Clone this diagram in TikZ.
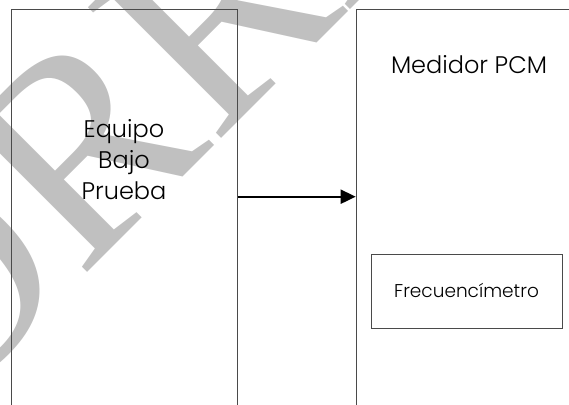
\documentclass[tikz,border=0pt]{standalone}
\usepackage{fontspec}
\setmainfont{Poppins Light}
\newfontfamily\marcafont{Liberation Serif}
\usetikzlibrary{positioning, arrows.meta}
\definecolor{marca}{HTML}{C0C0C0}
\definecolor{borde}{HTML}{4A4A4A}

\begin{document}
\begin{tikzpicture}[x=1pt, y=-1pt, inner sep=0pt,
      caja/.style={draw=borde, line width=0.9pt},
      etiqueta/.style={font=\fontsize{24}{31}\selectfont, align=center},
      flecha/.style={-{Triangle[length=15pt,width=14pt]}, line width=2pt}]
  \useasboundingbox (0,0) rectangle (569,404);
  \clip (0,0) rectangle (569,404);
  % marca de agua
  \node[anchor=base west, rotate=45, text=marca,
        font=\marcafont\fontsize{285}{285}\selectfont] (borrador) at (-200,560) {BORRADOR};
  % equipo y medidor
  \node[caja, anchor=north west, minimum width=226, minimum height=430] (equipo) at (11,9) {};
  \node[caja, anchor=north west, minimum width=240, minimum height=430] (medidor) at (355.7,9) {};
  \node[etiqueta, anchor=center] (txtequipo) at (124,160) {Equipo\\Bajo\\Prueba};
  \node[etiqueta, anchor=base] (txtmedidor) at (469,73) {Medidor PCM};
  \node[caja, minimum width=191, minimum height=74, text height=13, text depth=0,
        font=\fontsize{18.5}{22}\selectfont] (frec) at (466.5,291) {Frecuencímetro};
  % senal
  \path (equipo.north east) ++(0,187.7) coordinate (salida);
  \draw[flecha] (salida) -- (salida -| medidor.west);
\end{tikzpicture}
\end{document}
